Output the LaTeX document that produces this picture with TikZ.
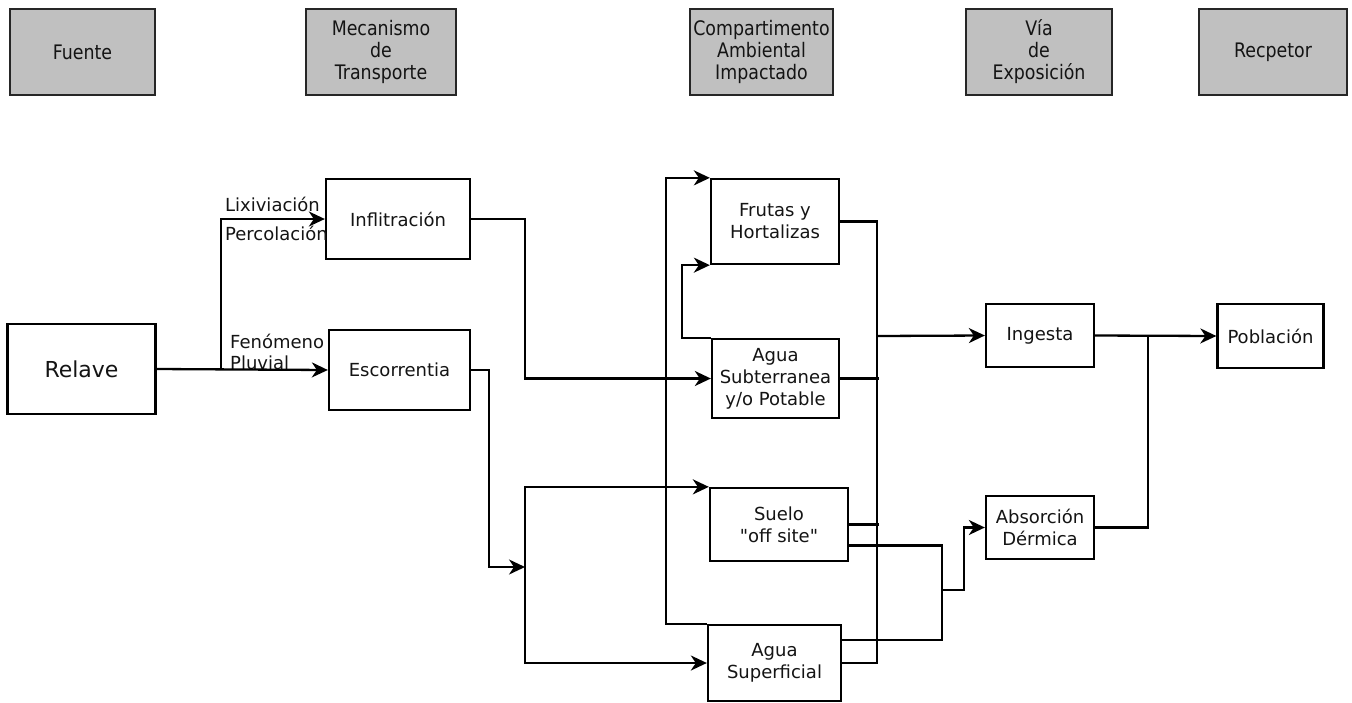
\documentclass[tikz,border=0pt]{standalone}
\usepackage{fontspec}
\setmainfont{DejaVu Sans}
\newfontfamily\hdrfont{DejaVu Sans}[FakeStretch=0.87]
\usetikzlibrary{arrows.meta}
\definecolor{hdrgray}{HTML}{C0C0C0}
\definecolor{ink}{HTML}{141414}
\begin{document}
\begin{tikzpicture}[x=1pt,y=-1pt,
  line width=2.3pt,
  box/.style={draw=black, fill=white, inner sep=0pt, align=center, text=ink,
    font=\fontsize{18}{22}\selectfont},
  hdr/.style={draw=black!85, fill=hdrgray, inner sep=0pt, align=center, text=ink,
    minimum height=86pt, font=\hdrfont\fontsize{20}{22}\selectfont},
  lbl/.style={anchor=west, inner sep=0pt, text=ink, font=\fontsize{18}{22}\selectfont},
  arr/.style={-{Stealth[length=16pt,width=15pt,inset=5pt]}},
  ]
\useasboundingbox (0,0) rectangle (1352,702);

% column headers
\node[hdr, minimum width=145pt] (hFuente) at (82.5,52) {Fuente};
\node[hdr, minimum width=150pt] (hMec) at (381,52) {Mecanismo\\de\\Transporte};
\node[hdr, minimum width=143pt] (hComp) at (761.5,52) {Compartimento\\Ambiental\\Impactado};
\node[hdr, minimum width=146pt] (hVia) at (1039,52) {Vía\\de\\Exposición};
\node[hdr, minimum width=148pt] (hRec) at (1273,52) {Recpetor};

% source and transport
\node[box, minimum width=148pt, minimum height=90pt, font=\fontsize{22}{26}\selectfont] (relave) at (81.5,369) {Relave};
\node[box, minimum width=144pt, minimum height=80pt] (inflit) at (398,219) {Inflitración};
\node[box, minimum width=141pt, minimum height=80pt] (escor) at (399.5,370) {Escorrentia};

% environmental compartments
\node[box, minimum width=128pt, minimum height=85pt] (frutas) at (775,221.5) {Frutas y\\Hortalizas};
\node[box, minimum width=127pt, minimum height=79pt] (aguasub) at (775.5,378.5) {Agua\\Subterranea\\y/o Potable};
\node[box, minimum width=138pt, minimum height=73pt] (suelo) at (779,524.5) {Suelo\\\textquotedbl off site\textquotedbl};
\node[box, minimum width=133pt, minimum height=76pt] (aguasup) at (774.5,663) {Agua\\Superficial};

% exposure routes and receptor
\node[box, minimum width=108pt, minimum height=63pt] (ingesta) at (1040,335.5) {Ingesta};
\node[box, minimum width=108pt, minimum height=63pt] (absor) at (1040,527.5) {Absorción\\Dérmica};
\node[box, minimum width=106pt, minimum height=64pt] (pobla) at (1270.5,336) {Población};

% junction points
\coordinate (b1) at (221,370);
\coordinate (sp) at (525,567);
\coordinate (bus) at (877,336);
\coordinate (j2) at (942,590);
\coordinate (j3) at (964,590);
\coordinate (j4) at (1148,336);

% transport labels
\node[lbl] (lLix) at (224,204) {Lixiviación};
\node[lbl] (lPer) at (224,233) {Percolación};
\node[lbl] (lFen) at (229,341) {Fenómeno};
\node[lbl] (lPlu) at (229,363) {Pluvial};

% source to transport mechanisms
\draw[arr] (relave.east) -- (escor.west);
\draw[arr] (b1) |- (inflit.west);

% transport to compartments
\draw[arr] (inflit.east) -- ++(54,0) |- (aguasub.west);
\draw[arr] (escor.east) -- ++(18,0) |- (sp);
\draw[arr] (sp) |- (suelo.north west);
\draw[arr] (sp) |- (aguasup.west);

% transfers between compartments
\draw[arr] (aguasup.north west) -- ++(-41,0) |- (frutas.north west);
\draw[arr] (aguasub.north west) -- ++(-29,0) |- (frutas.south west);

% compartments to ingestion
\draw (frutas.east) -| (bus) |- (aguasup.east);
\draw (aguasub.east) -- ([xshift=2pt]aguasub.east -| bus);
\draw (suelo.east) -- ([xshift=2pt]suelo.east -| bus);
\draw[arr] (bus) -- (ingesta.west);

% compartments to dermal absorption
\draw ([yshift=-21pt]suelo.east) -| (j2) |- ([yshift=23pt]aguasup.east);
\draw[arr] (j2) -- (j3) |- (absor.west);

% exposure routes to receptor
\draw[arr] (ingesta.east) -- (pobla.west);
\draw (absor.east) -| (j4);
\end{tikzpicture}
\end{document}
